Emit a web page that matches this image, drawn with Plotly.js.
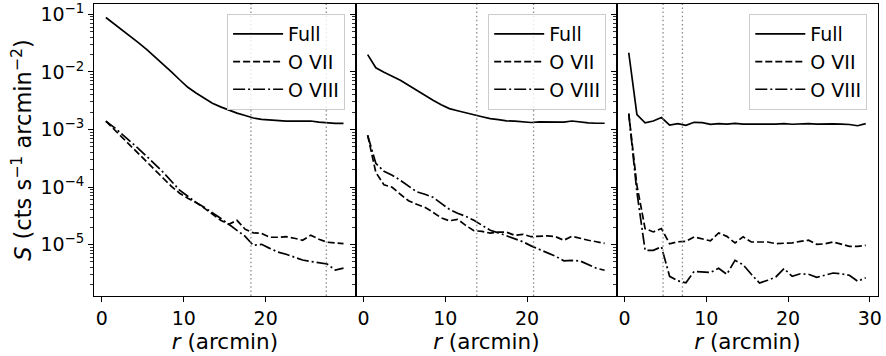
<!DOCTYPE html>
<html>
<head>
<meta charset="utf-8">
<script src="https://cdn.plot.ly/plotly-3.0.1.min.js"></script>
<style>html,body{margin:0;padding:0;background:#fff}#chart{width:886px;height:356px}</style>
</head>
<body>
<div id="chart"></div>
<script>
// radial bin centres (arcmin)
const r = [0.5,1.5,2.5,3.5,4.5,5.5,6.5,7.5,8.5,9.5,10.5,11.5,12.5,13.5,14.5,15.5,16.5,17.5,18.5,19.5,20.5,21.5,22.5,23.5,24.5,25.5,26.5,27.5,28.5,29.5];

// Panel 1
const full1 = [0.088,0.0687,0.0532,0.0413,0.032,0.0243,0.0182,0.0136,0.0100,0.0073,0.0054,0.0043,0.0035,0.00286,0.00247,0.00216,0.00192,0.00175,0.00158,0.0015,0.00145,0.00141,0.00139,0.00139,0.00138,0.0014,0.00134,0.0013,0.00127,0.00127];
const o7_1 = [1.39e-3,1.0e-3,7.2e-4,5.1e-4,3.7e-4,2.7e-4,1.95e-4,1.42e-4,1.03e-4,7.8e-5,6.4e-5,5.4e-5,4.3e-5,3.4e-5,2.65e-5,2.25e-5,2.64e-5,1.85e-5,1.6e-5,1.57e-5,1.34e-5,1.34e-5,1.37e-5,1.29e-5,1.19e-5,1.45e-5,1.24e-5,1.1e-5,1.07e-5,1.04e-5];
const o8_1 = [1.39e-3,1.09e-3,8.2e-4,6.2e-4,4.6e-4,3.4e-4,2.5e-4,1.8e-4,1.26e-4,8.8e-5,6.9e-5,5.4e-5,4.45e-5,3.6e-5,2.86e-5,2.25e-5,1.77e-5,1.39e-5,9.7e-6,1.01e-5,8.6e-6,7.4e-6,6.8e-6,6.0e-6,5.4e-6,5.1e-6,4.8e-6,4.6e-6,3.6e-6,3.9e-6];

// Panel 2
const full2 = [0.0199,0.0118,0.00984,0.00838,0.00714,0.00585,0.00479,0.00384,0.00321,0.00268,0.0023,0.00211,0.00192,0.0018,0.00166,0.00154,0.00148,0.00141,0.00139,0.00136,0.00132,0.00135,0.00134,0.00135,0.00134,0.0014,0.00134,0.0013,0.00128,0.00128];
const o7_2 = [7.9e-4,1.8e-4,1.09e-4,9.9e-5,7.48e-5,5.77e-5,5.01e-5,4.45e-5,3.64e-5,2.92e-5,2.59e-5,2.75e-5,2.16e-5,1.74e-5,1.7e-5,1.58e-5,1.64e-5,1.64e-5,1.45e-5,1.51e-5,1.37e-5,1.39e-5,1.42e-5,1.37e-5,1.19e-5,1.39e-5,1.27e-5,1.19e-5,1.12e-5,1.05e-5];
const o8_2 = [7.9e-4,2.58e-4,1.87e-4,1.6e-4,1.31e-4,1.03e-4,8.26e-5,7.48e-5,6.64e-5,5.21e-5,4.1e-5,3.5e-5,3.1e-5,2.64e-5,2.16e-5,1.77e-5,1.6e-5,1.42e-5,1.27e-5,1.12e-5,9.5e-6,8.3e-6,7.35e-6,6.26e-6,5.23e-6,5.3e-6,5.2e-6,4.55e-6,3.88e-6,3.58e-6];

// Panel 3
const full3 = [0.0215,0.00181,0.0013,0.0014,0.00161,0.00119,0.00126,0.00118,0.00133,0.00131,0.00123,0.00126,0.00124,0.00127,0.00124,0.00125,0.00125,0.00124,0.00124,0.00126,0.00123,0.00125,0.00126,0.00124,0.00126,0.00125,0.00124,0.00122,0.00116,0.00126];
const o7_3 = [1.88e-3,1.07e-4,1.9e-5,1.66e-5,1.9e-5,1.03e-5,1.12e-5,1.14e-5,1.36e-5,1.24e-5,1.16e-5,1.59e-5,1.39e-5,1.07e-5,1.36e-5,1.11e-5,1.11e-5,1.11e-5,1.04e-5,1.06e-5,1.07e-5,1.14e-5,1.19e-5,1.01e-5,1.03e-5,1.11e-5,1.03e-5,9.33e-6,9.33e-6,9.72e-6];
const o8_3 = [1.88e-3,8.1e-5,7.96e-6,7.96e-6,9.16e-6,2.81e-6,2.35e-6,2.17e-6,3.43e-6,3.38e-6,3.27e-6,3.88e-6,3.05e-6,5.33e-6,4.46e-6,3.05e-6,2.15e-6,2.4e-6,2.74e-6,3.83e-6,2.81e-6,3.11e-6,3.05e-6,2.7e-6,2.93e-6,3.21e-6,3.11e-6,2.93e-6,2.31e-6,2.65e-6];

// vertical reference radii per panel
const vlines1 = [18.2, 27.4];
const vlines2 = [13.85, 20.8];
const vlines3 = [4.7, 7.07];

const seriesNames = ['Full', 'O VII', 'O VIII'];
const yTickVals = [1e-5, 1e-4, 1e-3, 1e-2, 1e-1];
const yTickText = ['10<sup>−5</sup>','10<sup>−4</sup>','10<sup>−3</sup>','10<sup>−2</sup>','10<sup>−1</sup>'];

const FONT = 'DejaVu Sans, sans-serif';
const dashes = ['solid', '7px,3px', '12px,3px,2px,3px'];

const panels = [
  {data:[full1,o7_1,o8_1], v:vlines1},
  {data:[full2,o7_2,o8_2], v:vlines2},
  {data:[full3,o7_3,o8_3], v:vlines3}
];

const traces = [];
const shapes = [];
panels.forEach((p, i) => {
  const sfx = i === 0 ? '' : String(i+1);
  p.data.forEach((ys, j) => {
    traces.push({
      x: r, y: ys, type:'scatter', mode:'lines', name: seriesNames[j],
      xaxis:'x'+sfx, yaxis:'y'+sfx, legend:'legend'+sfx,
      line:{color:'black', width:1.7, dash:dashes[j]}
    });
  });
  p.v.forEach(xv => {
    shapes.push({type:'line', xref:'x'+sfx, yref:'y'+sfx+' domain', x0:xv, x1:xv, y0:0, y1:1,
      line:{color:'rgba(128,128,128,0.9)', width:1.3, dash:'1.5px,2.6px'}, layer:'above'});
  });
});

const minorVals = [];
[1e-6,1e-5,1e-4,1e-3,1e-2,1e-1].forEach(d => { for (let k=2;k<=9;k++) minorVals.push(k*d); });

const W = 783.7;
const doms = [[0, 261.7/W], [261.7/W, 522.7/W], [522.7/W, 1]];
const layout = {
  width:886, height:356,
  margin:{l:94, r:8, t:4, b:60},
  paper_bgcolor:'white', plot_bgcolor:'white',
  font:{family:FONT, size:19, color:'black'},
  showlegend:true,
  shapes: shapes
};
doms.forEach((d, i) => {
  const sfx = i === 0 ? '' : String(i+1);
  layout['xaxis'+sfx] = {
    domain:d, anchor:'y'+sfx, range:[-0.95, 31.0],
    tickmode:'array', tickvals: i===2 ? [0,10,20,30] : [0,10,20],
    ticks:'outside', ticklen:5, tickwidth:1, tickcolor:'black',
    showline:true, mirror:true, linecolor:'black', linewidth:1,
    showgrid:false, zeroline:false,
    tickfont:{size:19, family:FONT},
    title:{text:'<i>r</i> (arcmin)', font:{size:21.5, family:FONT}, standoff:4}
  };
  layout['yaxis'+sfx] = {
    domain:[0,1], anchor:'x'+sfx, type:'log', range:[-5.893, -0.821],
    tickmode:'array', tickvals:yTickVals, ticktext:yTickText,
    showticklabels: i===0,
    ticks:'outside', ticklen:5, tickwidth:1, tickcolor:'black',
    minor:{tickmode:'array', tickvals:minorVals, ticks:'outside', ticklen:3, tickwidth:0.8, tickcolor:'black'},
    showline:true, mirror:true, linecolor:'black', linewidth:1,
    showgrid:false, zeroline:false,
    tickfont:{size:19, family:FONT},
    title: i===0 ? {text:'<i>S</i> (cts s<sup>−1</sup> arcmin<sup>−2</sup>)', font:{size:22.5, family:FONT}, standoff:2} : {text:''}
  };
  layout['legend'+sfx] = {
    x: d[1] - 10.7/W, xanchor:'right', y: 1 - 10/292, yanchor:'top',
    bgcolor:'rgba(255,255,255,0.8)', bordercolor:'#cccccc', borderwidth:1,
    font:{size:19, family:FONT}, tracegroupgap:0, itemwidth:50
  };
});

Plotly.newPlot('chart', traces, layout, {staticPlot:true, displayModeBar:false});
</script>
</body>
</html>
